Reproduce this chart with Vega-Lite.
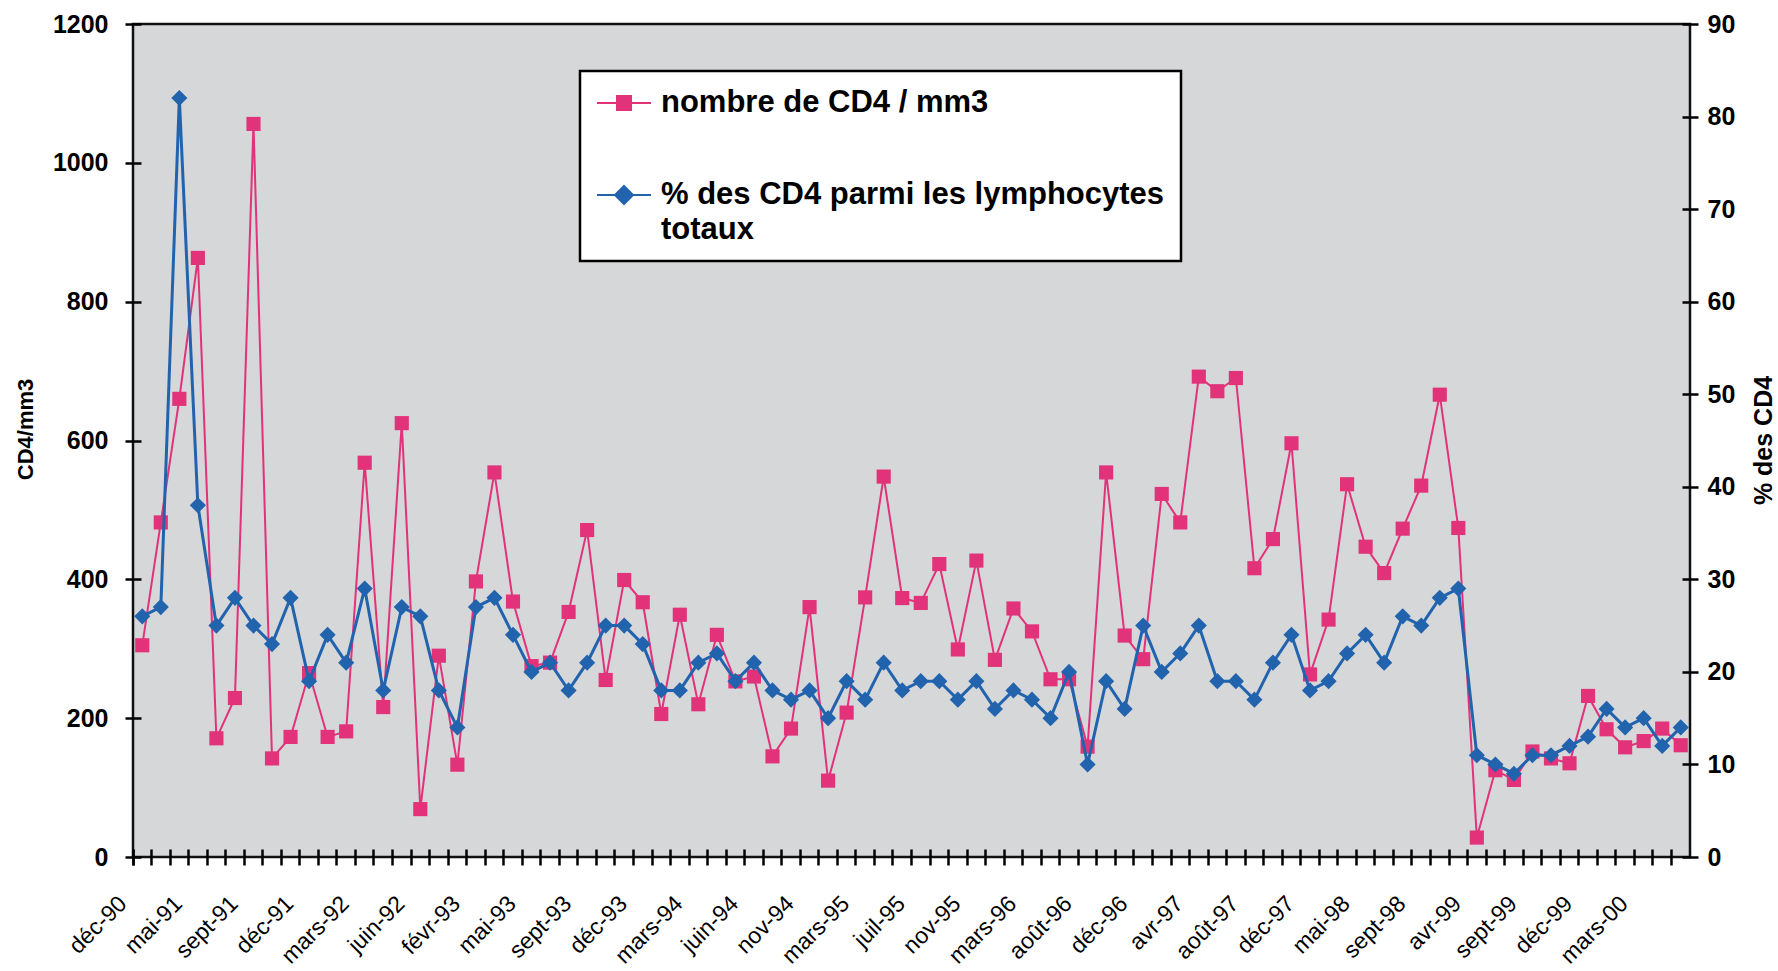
{
  "$schema": "https://vega.github.io/schema/vega-lite/v6.json",
  "width": 1557,
  "height": 833,
  "autosize": {"type": "none"},
  "padding": {"left": 133, "top": 24, "right": 88, "bottom": 114},
  "background": "white",
  "config": {
    "font": "Liberation Sans",
    "view": {"fill": "#d5d7d9", "stroke": "#111111", "strokeWidth": 2.5},
    "axis": {"grid": false, "domain": false, "tickColor": "#000000", "tickWidth": 2.5, "labelColor": "#000000", "titleColor": "#000000", "labelFont": "Liberation Sans", "titleFont": "Liberation Sans"}
  },
  "data": {
    "values": [
      {"n": 0, "cd4": 305, "pct": 26}, {"n": 1, "cd4": 482, "pct": 27}, {"n": 2, "cd4": 660, "pct": 82},
      {"n": 3, "cd4": 863, "pct": 38}, {"n": 4, "cd4": 171, "pct": 25}, {"n": 5, "cd4": 229, "pct": 28},
      {"n": 6, "cd4": 1056, "pct": 25}, {"n": 7, "cd4": 142, "pct": 23}, {"n": 8, "cd4": 173, "pct": 28},
      {"n": 9, "cd4": 265, "pct": 19}, {"n": 10, "cd4": 173, "pct": 24}, {"n": 11, "cd4": 181, "pct": 21},
      {"n": 12, "cd4": 568, "pct": 29}, {"n": 13, "cd4": 216, "pct": 18}, {"n": 14, "cd4": 625, "pct": 27},
      {"n": 15, "cd4": 69, "pct": 26}, {"n": 16, "cd4": 290, "pct": 18}, {"n": 17, "cd4": 133, "pct": 14},
      {"n": 18, "cd4": 397, "pct": 27}, {"n": 19, "cd4": 554, "pct": 28}, {"n": 20, "cd4": 368, "pct": 24},
      {"n": 21, "cd4": 275, "pct": 20}, {"n": 22, "cd4": 280, "pct": 21}, {"n": 23, "cd4": 353, "pct": 18},
      {"n": 24, "cd4": 471, "pct": 21}, {"n": 25, "cd4": 255, "pct": 25}, {"n": 26, "cd4": 399, "pct": 25},
      {"n": 27, "cd4": 367, "pct": 23}, {"n": 28, "cd4": 206, "pct": 18}, {"n": 29, "cd4": 349, "pct": 18},
      {"n": 30, "cd4": 220, "pct": 21}, {"n": 31, "cd4": 320, "pct": 22}, {"n": 32, "cd4": 253, "pct": 19},
      {"n": 33, "cd4": 260, "pct": 21}, {"n": 34, "cd4": 145, "pct": 18}, {"n": 35, "cd4": 185, "pct": 17},
      {"n": 36, "cd4": 360, "pct": 18}, {"n": 37, "cd4": 110, "pct": 15}, {"n": 38, "cd4": 208, "pct": 19},
      {"n": 39, "cd4": 374, "pct": 17}, {"n": 40, "cd4": 548, "pct": 21}, {"n": 41, "cd4": 373, "pct": 18},
      {"n": 42, "cd4": 366, "pct": 19}, {"n": 43, "cd4": 422, "pct": 19}, {"n": 44, "cd4": 299, "pct": 17},
      {"n": 45, "cd4": 427, "pct": 19}, {"n": 46, "cd4": 284, "pct": 16}, {"n": 47, "cd4": 358, "pct": 18},
      {"n": 48, "cd4": 325, "pct": 17}, {"n": 49, "cd4": 256, "pct": 15}, {"n": 50, "cd4": 256, "pct": 20},
      {"n": 51, "cd4": 159, "pct": 10}, {"n": 52, "cd4": 554, "pct": 19}, {"n": 53, "cd4": 319, "pct": 16},
      {"n": 54, "cd4": 285, "pct": 25}, {"n": 55, "cd4": 523, "pct": 20}, {"n": 56, "cd4": 482, "pct": 22},
      {"n": 57, "cd4": 692, "pct": 25}, {"n": 58, "cd4": 671, "pct": 19}, {"n": 59, "cd4": 690, "pct": 19},
      {"n": 60, "cd4": 416, "pct": 17}, {"n": 61, "cd4": 458, "pct": 21}, {"n": 62, "cd4": 596, "pct": 24},
      {"n": 63, "cd4": 263, "pct": 18}, {"n": 64, "cd4": 342, "pct": 19}, {"n": 65, "cd4": 537, "pct": 22},
      {"n": 66, "cd4": 447, "pct": 24}, {"n": 67, "cd4": 409, "pct": 21}, {"n": 68, "cd4": 473, "pct": 26},
      {"n": 69, "cd4": 535, "pct": 25}, {"n": 70, "cd4": 666, "pct": 28}, {"n": 71, "cd4": 474, "pct": 29},
      {"n": 72, "cd4": 28, "pct": 11}, {"n": 73, "cd4": 125, "pct": 10}, {"n": 74, "cd4": 111, "pct": 9},
      {"n": 75, "cd4": 152, "pct": 11}, {"n": 76, "cd4": 142, "pct": 11}, {"n": 77, "cd4": 135, "pct": 12},
      {"n": 78, "cd4": 232, "pct": 13}, {"n": 79, "cd4": 184, "pct": 16}, {"n": 80, "cd4": 158, "pct": 14},
      {"n": 81, "cd4": 167, "pct": 15}, {"n": 82, "cd4": 185, "pct": 12}, {"n": 83, "cd4": 161, "pct": 14}
    ]
  },
  "encoding": {
    "x": {
      "field": "n",
      "type": "ordinal",
      "bandPosition": 0.5,
      "scale": {"type": "band", "paddingInner": 0, "paddingOuter": 0},
      "axis": {
        "title": null,
        "bandPosition": 0,
        "tickExtra": true,
        "offset": -8,
        "tickSize": 16,
        "domain": false,
        "labelAngle": -45,
        "labelAlign": "right",
        "labelBaseline": "top",
        "labelOffset": -27,
        "labelPadding": 27,
        "labelFontSize": 23,
        "labelOverlap": false,
        "labelExpr": "datum.value % 3 == 0 ? ['déc-90','mai-91','sept-91','déc-91','mars-92','juin-92','févr-93','mai-93','sept-93','déc-93','mars-94','juin-94','nov-94','mars-95','juil-95','nov-95','mars-96','août-96','déc-96','avr-97','août-97','déc-97','mai-98','sept-98','avr-99','sept-99','déc-99','mars-00'][datum.value / 3] : ''"
      }
    }
  },
  "layer": [
    {
      "encoding": {
        "y": {
          "field": "cd4",
          "type": "quantitative",
          "scale": {"domain": [0, 1200], "nice": false},
          "axis": {
            "orient": "left",
            "title": "CD4/mm3",
            "values": [0, 200, 400, 600, 800, 1000, 1200],
            "format": "d",
            "offset": -8,
            "tickSize": 16,
            "labelPadding": 17,
            "labelFontSize": 25,
            "labelFontWeight": "bold",
            "titleFontSize": 22,
            "titleFontWeight": "bold",
            "titleAngle": 270,
            "titleAlign": "center",
            "titleBaseline": "middle",
            "titleX": -116,
            "titleY": 405
          }
        }
      },
      "layer": [
        {
          "mark": {"type": "line", "strokeWidth": 2},
          "encoding": {
            "color": {
              "datum": "nombre de CD4 / mm3",
              "type": "nominal",
              "scale": {"domain": ["nombre de CD4 / mm3", "% des CD4 parmi les lymphocytes totaux"], "range": ["#e2327a", "#2263ae"]},
              "legend": {
                "title": null,
                "orient": "none",
                "legendX": 447,
                "legendY": 47,
                "fillColor": "white",
                "strokeColor": "#000000",
                "padding": 16,
                "symbolSize": 900,
                "symbolStrokeWidth": 2,
                "labelFont": "Liberation Sans",
                "labelFontSize": 31,
                "labelFontWeight": "bold",
                "labelColor": "#000000",
                "labelLimit": 1000,
                "labelOffset": 33,
                "rowPadding": 61,
                "labelExpr": "datum.label == '% des CD4 parmi les lymphocytes totaux' ? ['% des CD4 parmi les lymphocytes', 'totaux'] : datum.label",
                "encode": {
                  "legend": {"update": {"strokeWidth": {"value": 2.5}}},
                  "symbols": {
                    "update": {
                      "shape": {"signal": "datum.value == 'nombre de CD4 / mm3' ? 'M-1,0H2.6M0.333,-0.467H1.267V0.467H0.333Z' : 'M-1,0H2.6M0.8,-0.6L1.4,0L0.8,0.6L0.2,0Z'"},
                      "fill": {"scale": "color", "field": "value"},
                      "stroke": {"scale": "color", "field": "value"},
                      "strokeWidth": {"value": 2},
                      "opacity": {"value": 1}
                    }
                  },
                  "labels": {"update": {"lineHeight": {"value": 35}}}
                }
              }
            }
          }
        },
        {
          "mark": {"type": "point", "shape": "square", "filled": true, "size": 200, "color": "#e2327a", "opacity": 1}
        }
      ]
    },
    {
      "encoding": {
        "y": {
          "field": "pct",
          "type": "quantitative",
          "scale": {"domain": [0, 90], "nice": false},
          "axis": {
            "orient": "right",
            "title": "% des CD4",
            "values": [0, 10, 20, 30, 40, 50, 60, 70, 80, 90],
            "offset": -8,
            "tickSize": 16,
            "labelPadding": 9,
            "labelFontSize": 25,
            "labelFontWeight": "bold",
            "titleFontSize": 25,
            "titleFontWeight": "bold",
            "titleAngle": 270,
            "titleAlign": "center",
            "titleBaseline": "middle",
            "titleX": 81,
            "titleY": 416
          }
        }
      },
      "layer": [
        {
          "mark": {"type": "line", "strokeWidth": 3},
          "encoding": {
            "color": {"datum": "% des CD4 parmi les lymphocytes totaux", "type": "nominal"}
          }
        },
        {
          "mark": {"type": "point", "shape": "diamond", "filled": true, "size": 260, "color": "#2263ae", "opacity": 1}
        }
      ]
    }
  ],
  "resolve": {"scale": {"y": "independent"}}
}
